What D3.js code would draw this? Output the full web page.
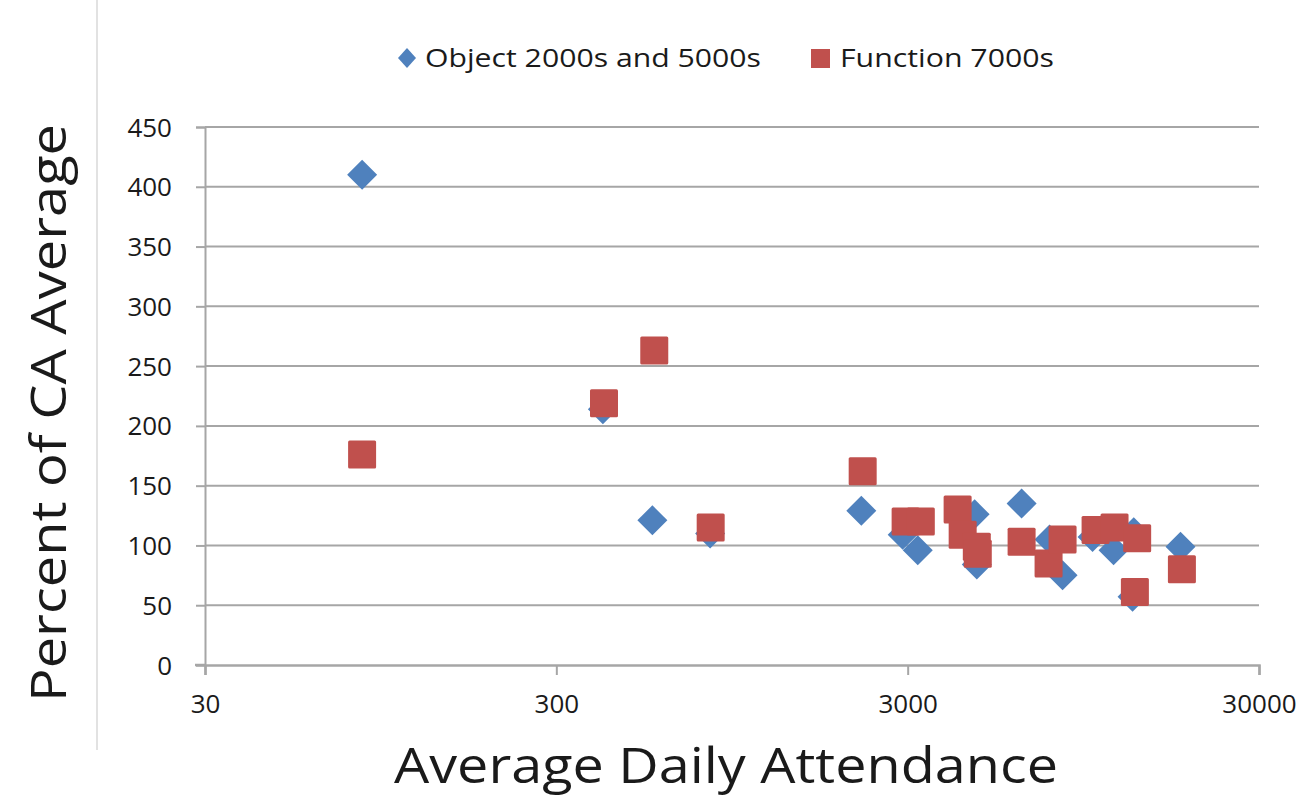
<!DOCTYPE html>
<html><head><meta charset="utf-8">
<script src="https://cdn.jsdelivr.net/npm/d3@7"></script>
<style>body{margin:0;background:#fff}svg{display:block}text{font-family:"Open Sans","Liberation Sans",sans-serif;fill:#1a1a1a}</style>
</head><body>
<script>
const seriesNames = ["Object 2000s and 5000s", "Function 7000s"];
const objectX = [84, 407, 563, 822, 2214, 2904, 3205, 4653, 4720, 6330, 7600, 8280, 10077, 11565, 13200, 13100, 17937];
const objectY = [410, 214, 121, 110, 129, 109, 96, 126, 84, 135, 105, 75, 107, 96, 111, 57, 99];
const functionX = [84, 410, 570, 825, 2234, 2960, 3270, 4162, 4302, 4720, 4750, 6330, 7554, 8280, 10280, 11640, 13500, 13300, 18100];
const functionY = [176, 219, 263, 115, 162, 120, 120, 130, 109, 99, 93, 103, 85, 105, 113, 115, 106, 61, 80];
const xTicks = [30, 300, 3000, 30000];
const yTicks = [0, 50, 100, 150, 200, 250, 300, 350, 400, 450];
const xTitle = "Average Daily Attendance";
const yTitle = "Percent of CA Average";
const colors = ["#4F81BD", "#C0504D"];

const W = 1306, H = 798;
const svg = d3.select("body").append("svg").attr("width", W).attr("height", H);
const x = d3.scaleLog().domain([30, 30000]).range([205, 1259]);
const y = d3.scaleLinear().domain([0, 450]).range([665, 127]);

// left border
svg.append("line").attr("x1", 97).attr("x2", 97).attr("y1", 0).attr("y2", 750)
  .attr("stroke", "#d9d9d9").attr("stroke-width", 1.5);

// gridlines
const grid = svg.append("g");
grid.selectAll("line").data(yTicks.filter(d => d > 0)).join("line")
  .attr("x1", 205).attr("x2", 1259).attr("y1", d => y(d)).attr("y2", d => y(d))
  .attr("stroke", "#a6a6a6").attr("stroke-width", 2);

// y axis
const yAxis = svg.append("g").attr("transform", "translate(205,0)")
  .call(d3.axisLeft(y).tickValues(yTicks).tickSize(9).tickPadding(24).tickFormat(d3.format("d")));
yAxis.select(".domain").attr("stroke", "#a6a6a6").attr("stroke-width", 2);
yAxis.selectAll(".tick line").attr("stroke", "#a6a6a6").attr("stroke-width", 2);
yAxis.selectAll(".tick text").attr("font-size", 26).attr("fill", "#222").attr("dy", "0.35em").attr("x", -33);

// x axis
const xAxis = svg.append("g").attr("transform", "translate(0,665)")
  .call(d3.axisBottom(x).tickValues(xTicks).tickSize(10).tickPadding(24).tickFormat(d3.format("d")));
xAxis.select(".domain").attr("stroke", "#a6a6a6").attr("stroke-width", 2.5);
xAxis.selectAll(".tick line").attr("stroke", "#a6a6a6").attr("stroke-width", 2);
xAxis.selectAll(".tick text").attr("font-size", 26).attr("fill", "#222").attr("y", 30);
svg.append("line").attr("x1", 195).attr("x2", 205).attr("y1", 665).attr("y2", 665)
  .attr("stroke", "#a6a6a6").attr("stroke-width", 2.5);

// points
const objData = objectX.map((v, i) => ({x: v, y: objectY[i]}));
const funData = functionX.map((v, i) => ({x: v, y: functionY[i]}));
const dsz = 15;
svg.append("g").selectAll("path").data(objData).join("path")
  .attr("d", d => `M${x(d.x)},${y(d.y)-dsz}L${x(d.x)+dsz},${y(d.y)}L${x(d.x)},${y(d.y)+dsz}L${x(d.x)-dsz},${y(d.y)}Z`)
  .attr("fill", colors[0]);
const ssz = 28;
svg.append("g").selectAll("rect").data(funData).join("rect")
  .attr("x", d => x(d.x) - ssz/2).attr("y", d => y(d.y) - ssz/2)
  .attr("width", ssz).attr("height", ssz).attr("rx", 1.5)
  .attr("fill", colors[1]);

// legend
const lg = svg.append("g");
lg.append("path").attr("d", "M407,48L416,58L407,68L398,58Z").attr("fill", colors[0]);
lg.append("text").attr("x", 425).attr("y", 67).attr("font-size", 26)
  .attr("textLength", 336).attr("lengthAdjust", "spacingAndGlyphs").text(seriesNames[0]);
lg.append("rect").attr("x", 811).attr("y", 49).attr("width", 19).attr("height", 19).attr("fill", colors[1]);
lg.append("text").attr("x", 840).attr("y", 67).attr("font-size", 26)
  .attr("textLength", 214).attr("lengthAdjust", "spacingAndGlyphs").text(seriesNames[1]);

// titles
svg.append("text").attr("x", 726).attr("y", 783).attr("text-anchor", "middle").attr("font-size", 49)
  .attr("textLength", 664).attr("lengthAdjust", "spacingAndGlyphs").text(xTitle);
svg.append("text").attr("transform", "translate(66,413) rotate(-90)").attr("text-anchor", "middle").attr("font-size", 50)
  .attr("textLength", 578).attr("lengthAdjust", "spacingAndGlyphs").text(yTitle);
</script>
</body></html>
